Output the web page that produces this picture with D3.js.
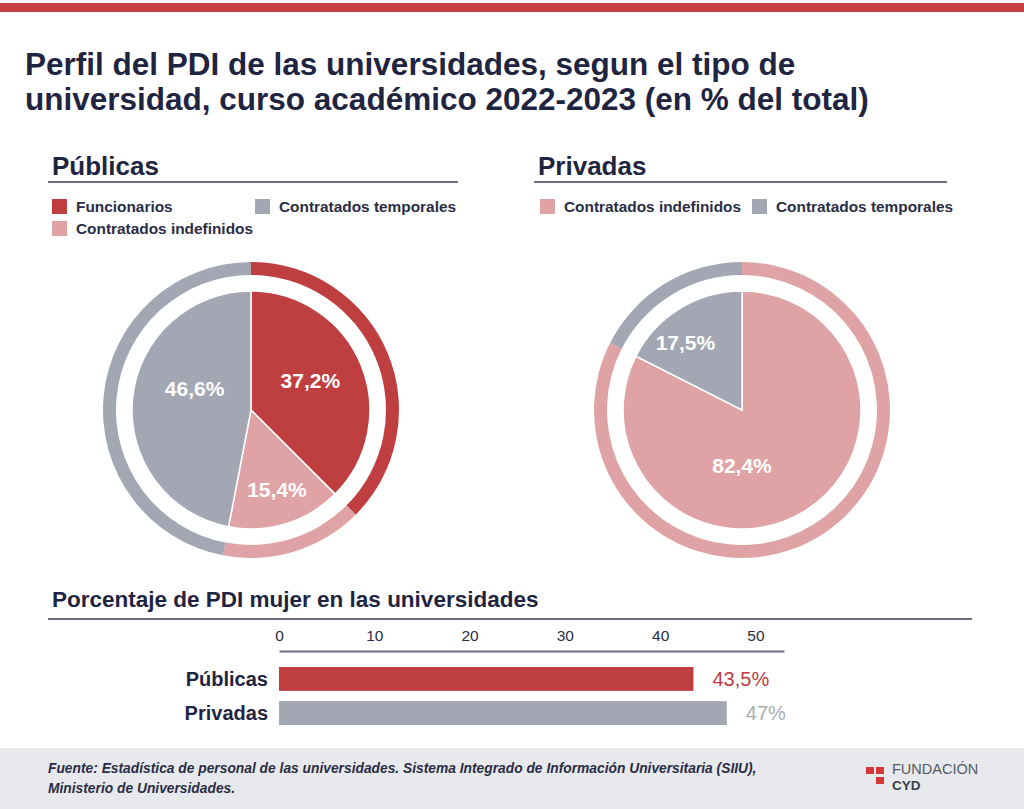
<!DOCTYPE html>
<html>
<head>
    <title>Perfil del PDI</title>
    <script src="https://cdnjs.cloudflare.com/ajax/libs/d3/7.8.5/d3.min.js"></script>
    <style>
        body {
            margin: 0;
            background: white;
            font-family: "Liberation Sans", Arial, sans-serif;
        }
        .title { font-size: 31.5px; font-weight: bold; fill: #1f2541; }
        .section { font-size: 26px; font-weight: bold; fill: #1f2541; }
        .legend-text { font-size: 15.4px; font-weight: bold; fill: #2a2d45; }
        .slice-label { font-size: 21px; font-weight: bold; fill: white; }
        .bar-title { font-size: 22.5px; font-weight: bold; fill: #1f2541; }
        .tick-label { font-size: 15.5px; fill: #2a2d45; }
        .cat-label { font-size: 20px; font-weight: bold; fill: #1f2541; }
        .footer-text { font-size: 13.8px; font-weight: bold; font-style: italic; fill: #2a2d45; }
    </style>
</head>
<body>
<div id="chart"></div>
<script>
    // pie data
    const publicasCats = ["Funcionarios", "Contratados indefinidos", "Contratados temporales"];
    const publicasVals = [37.2, 15.4, 46.6];
    const privadasCats = ["Contratados indefinidos", "Contratados temporales"];
    const privadasVals = [82.4, 17.5];

    // bar data
    const barCats = ["Públicas", "Privadas"];
    const barVals = [43.5, 47];
    const barTicks = [0, 10, 20, 30, 40, 50];

    const colors = {
        "Funcionarios": "#bf3e40",
        "Contratados indefinidos": "#dfa3a5",
        "Contratados temporales": "#a3a7b3"
    };

    const W = 1024, H = 809;
    const svg = d3.select("#chart").append("svg")
        .attr("width", W)
        .attr("height", H);

    // top red band
    svg.append("rect").attr("x", 0).attr("y", 3).attr("width", W).attr("height", 9).attr("fill", "#c4403f");

    // title
    const title = svg.append("text").attr("class", "title").attr("x", 25).attr("y", 75);
    title.append("tspan").attr("x", 25).text("Perfil del PDI de las universidades, segun el tipo de");
    title.append("tspan").attr("x", 25).attr("dy", 35).text("universidad, curso académico 2022-2023 (en % del total)");

    function sectionHeader(x, x2, label) {
        svg.append("text").attr("class", "section").attr("x", x).attr("y", 175).text(label);
        svg.append("line")
            .attr("x1", x - 4).attr("x2", x2)
            .attr("y1", 182).attr("y2", 182)
            .attr("stroke", "#6b6e80").attr("stroke-width", 2);
    }

    function legendItem(x, y, cat) {
        svg.append("rect").attr("x", x).attr("y", y - 13).attr("width", 15).attr("height", 15)
            .attr("fill", colors[cat]);
        svg.append("text").attr("class", "legend-text").attr("x", x + 24).attr("y", y).text(cat);
    }

    sectionHeader(52, 458, "Públicas");
    legendItem(52, 212, "Funcionarios");
    legendItem(255, 212, "Contratados temporales");
    legendItem(52, 234, "Contratados indefinidos");

    sectionHeader(538, 947, "Privadas");
    legendItem(540, 212, "Contratados indefinidos");
    legendItem(752, 212, "Contratados temporales");

    // label placement in polar terms (angle in degrees from 12 o'clock, radius)
    const labelPolar = {
        pub: [{ a: 64, r: 66 }, { a: 162, r: 84 }, { a: 290, r: 60 }],
        priv: [{ a: 180, r: 56 }, { a: 320, r: 88 }]
    };

    function drawPie(cx, cy, cats, vals, key) {
        const data = cats.map((c, i) => ({ cat: c, value: vals[i] }));
        const pie = d3.pie().value(d => d.value).sort(null);
        const arcs = pie(data);
        const g = svg.append("g").attr("transform", `translate(${cx},${cy})`);

        const ring = d3.arc().innerRadius(135).outerRadius(148);
        const inner = d3.arc().innerRadius(0).outerRadius(119);

        g.selectAll(".ring").data(arcs).join("path")
            .attr("d", ring)
            .attr("fill", d => colors[d.data.cat]);

        g.selectAll(".slice").data(arcs).join("path")
            .attr("d", inner)
            .attr("fill", d => colors[d.data.cat])
            .attr("stroke", "white")
            .attr("stroke-width", 1.5);

        g.selectAll(".slice-label").data(arcs).join("text")
            .attr("class", "slice-label")
            .attr("text-anchor", "middle")
            .attr("x", (d, i) => labelPolar[key][i].r * Math.sin(labelPolar[key][i].a * Math.PI / 180))
            .attr("y", (d, i) => -labelPolar[key][i].r * Math.cos(labelPolar[key][i].a * Math.PI / 180) + 7)
            .text(d => d3.format(".1f")(d.data.value).replace(".", ",") + "%");
    }

    drawPie(251, 410, publicasCats, publicasVals, "pub");
    drawPie(742, 410, privadasCats, privadasVals, "priv");

    // bar chart
    svg.append("text").attr("class", "bar-title").attr("x", 52).attr("y", 607)
        .text("Porcentaje de PDI mujer en las universidades");
    svg.append("line")
        .attr("x1", 48).attr("x2", 972).attr("y1", 619).attr("y2", 619)
        .attr("stroke", "#6b6e80").attr("stroke-width", 2);

    const x = d3.scaleLinear().domain([0, 53]).range([279, 784]);
    const y = d3.scaleBand().domain(barCats).range([667, 725]).paddingInner(0.3).paddingOuter(0);

    const axis = svg.append("g")
        .attr("transform", "translate(0,651)")
        .call(d3.axisTop(x).tickValues(barTicks).tickSize(0).tickPadding(10));
    axis.select(".domain").attr("stroke", "#6b6e80").attr("stroke-width", 2);
    axis.selectAll("text")
        .attr("class", "tick-label")
        .attr("font-family", null)
        .attr("font-size", null)
        .attr("fill", null);

    const barColors = ["#bf3e40", "#a3a7b3"];
    const valColors = ["#c0393f", "#a9acb6"];

    svg.selectAll(".bar").data(barVals).join("rect")
        .attr("x", x(0))
        .attr("y", (d, i) => y(barCats[i]))
        .attr("width", d => x(d) - x(0))
        .attr("height", y.bandwidth())
        .attr("fill", (d, i) => barColors[i]);

    svg.selectAll(".cat-label").data(barCats).join("text")
        .attr("class", "cat-label")
        .attr("x", 268)
        .attr("y", d => y(d) + y.bandwidth() / 2 + 7)
        .attr("text-anchor", "end")
        .text(d => d);

    svg.selectAll(".val-label").data(barVals).join("text")
        .attr("x", d => x(d) + 19)
        .attr("y", (d, i) => y(barCats[i]) + y.bandwidth() / 2 + 7)
        .attr("font-size", 20)
        .attr("fill", (d, i) => valColors[i])
        .text(d => (Number.isInteger(d) ? d : d3.format(".1f")(d).replace(".", ",")) + "%");

    // footer
    svg.append("rect").attr("x", 0).attr("y", 748).attr("width", W).attr("height", H - 748).attr("fill", "#e8e9ec");
    svg.append("text").attr("class", "footer-text").attr("x", 48).attr("y", 773)
        .text("Fuente: Estadística de personal de las universidades. Sistema Integrado de Información Universitaria (SIIU),");
    svg.append("text").attr("class", "footer-text").attr("x", 48).attr("y", 793)
        .text("Ministerio de Universidades.");

    // logo
    const logo = svg.append("g");
    logo.append("rect").attr("x", 866).attr("y", 767).attr("width", 8).attr("height", 7).attr("fill", "#d4383a");
    logo.append("rect").attr("x", 876).attr("y", 767).attr("width", 8).attr("height", 7).attr("fill", "#d4383a");
    logo.append("rect").attr("x", 876).attr("y", 777).attr("width", 8).attr("height", 7).attr("fill", "#d4383a");
    logo.append("text").attr("x", 892).attr("y", 774).attr("font-size", 14.5).attr("fill", "#555a66").text("FUNDACIÓN");
    logo.append("text").attr("x", 892).attr("y", 790).attr("font-size", 13.5).attr("font-weight", "bold").attr("fill", "#3a3d4a").text("CYD");
</script>
</body>
</html>
